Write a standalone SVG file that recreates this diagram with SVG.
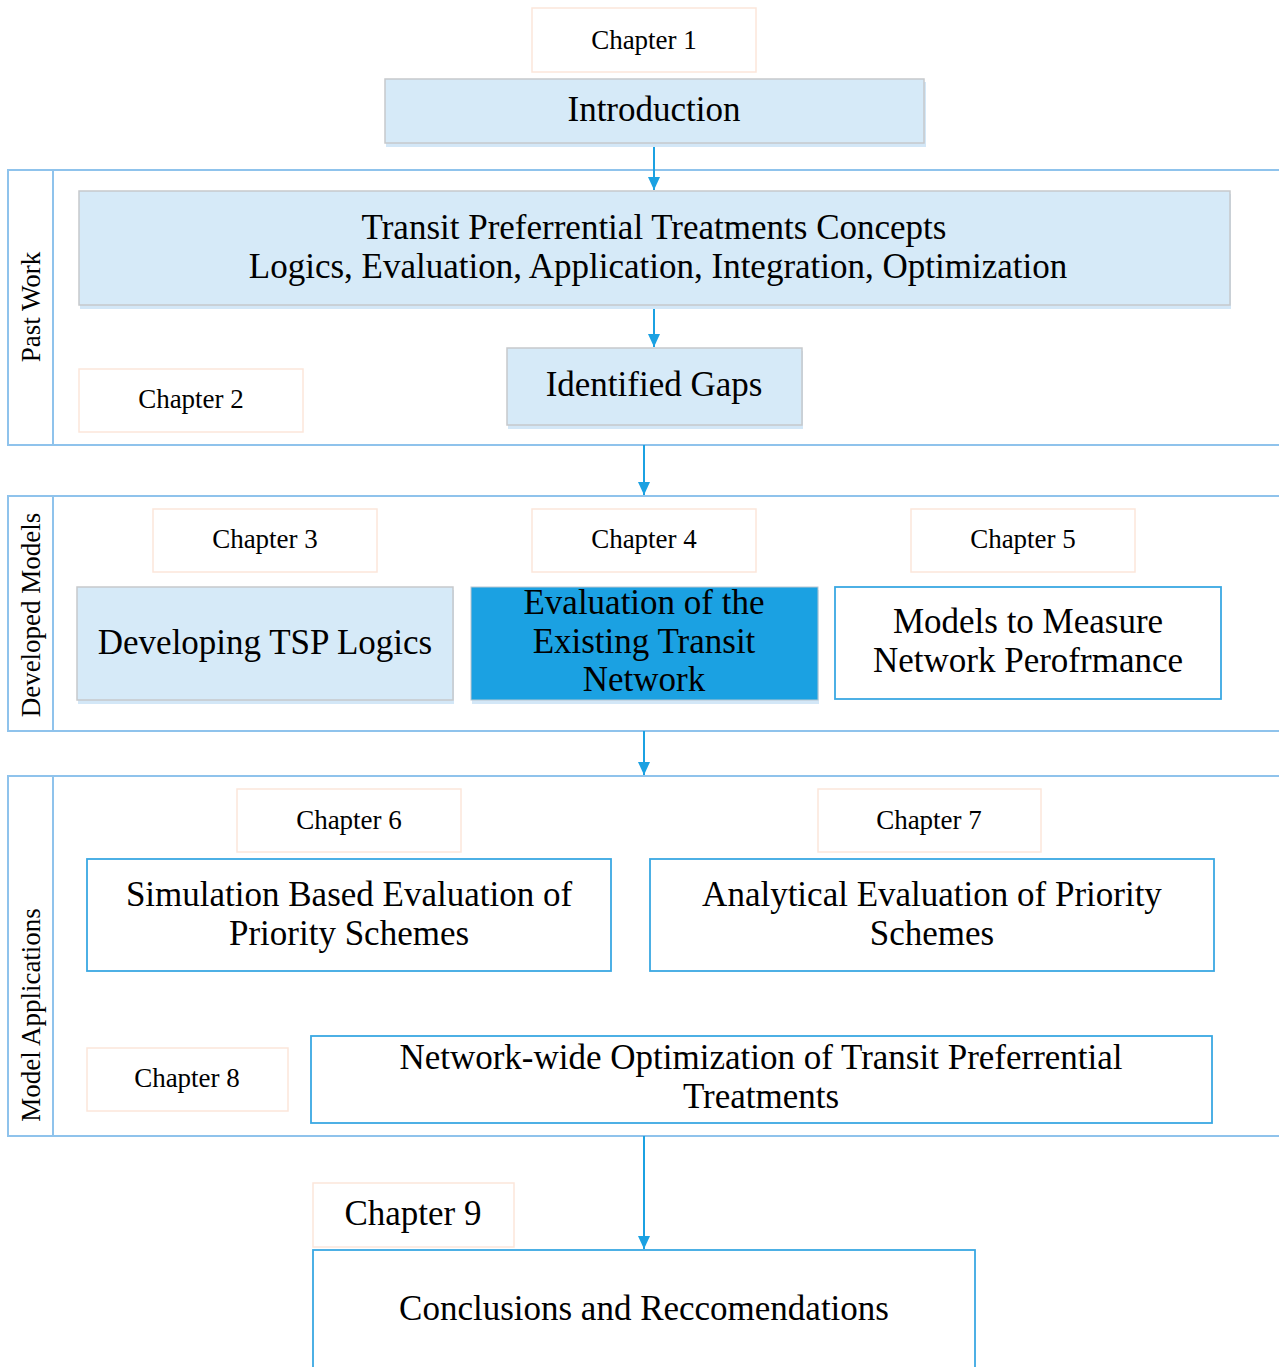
<svg xmlns="http://www.w3.org/2000/svg" width="1279" height="1367" viewBox="0 0 1279 1367">
  <defs>
    <style>
      .lane { fill: none; stroke: #8fc3ec; stroke-width: 2; }
      .chap { fill: #ffffff; stroke: #fce6da; stroke-width: 1.5; }
      .soft { fill: #d6eaf8; stroke: #c6c9cc; stroke-width: 1.5; }
      .shadow { fill: #d3e7f7; }
      .open { fill: #ffffff; stroke: #3aa8e3; stroke-width: 1.8; }
      .solid { fill: #1ba1e2; stroke: #b9c6cf; stroke-width: 1; }
      .t { font-family: "Liberation Serif", "Times New Roman", serif; fill: #000000; text-anchor: middle; }
      .big { font-size: 35px; }
      .small { font-size: 27px; }
      .wire { stroke: #1ba1e2; stroke-width: 2; fill: none; marker-end: url(#arrow); }
    </style>
    <!-- filled arrowhead, tip at the end of the line -->
    <marker id="arrow" markerWidth="13" markerHeight="12" refX="13" refY="6" orient="auto" markerUnits="userSpaceOnUse" viewBox="0 0 13 12">
      <path d="M0,0 L13,6 L0,12 Z" fill="#1ba1e2"/>
    </marker>
  </defs>

  <rect width="1279" height="1367" fill="#ffffff"/>

  <!-- swimlanes -->
  <g id="lane-past-work">
    <rect class="lane" x="8" y="170" width="1290" height="275"/>
    <line class="lane" x1="53" y1="170" x2="53" y2="445"/>
    <text class="t small" transform="translate(40 307) rotate(-90)">Past Work</text>
  </g>
  <g id="lane-developed-models">
    <rect class="lane" x="8" y="496" width="1290" height="235"/>
    <line class="lane" x1="53" y1="496" x2="53" y2="731"/>
    <text class="t small" transform="translate(40 615) rotate(-90)">Developed Models</text>
  </g>
  <g id="lane-model-applications">
    <rect class="lane" x="8" y="776" width="1290" height="360"/>
    <line class="lane" x1="53" y1="776" x2="53" y2="1136"/>
    <text class="t small" transform="translate(40 1015) rotate(-90)">Model Applications</text>
  </g>

  <!-- connectors -->
  <g id="connectors">
    <line class="wire" x1="654" y1="143" x2="654" y2="190"/>
    <line class="wire" x1="654" y1="306" x2="654" y2="347"/>
    <line class="wire" x1="644" y1="445" x2="644" y2="495"/>
    <line class="wire" x1="644" y1="731" x2="644" y2="775"/>
    <line class="wire" x1="644" y1="1136" x2="644" y2="1249"/>
  </g>

  <!-- chapter 1 -->
  <g id="chapter-1">
    <rect class="chap" x="532" y="8" width="224" height="64"/>
    <text class="t small" x="644" y="49">Chapter 1</text>
  </g>
  <g id="introduction">
    <rect class="shadow" x="386" y="82" width="540" height="65"/>
    <rect class="soft" x="385" y="79" width="539" height="64"/>
    <text class="t big" x="654" y="121">Introduction</text>
  </g>

  <!-- chapter 2 -->
  <g id="concepts">
    <rect class="shadow" x="80" y="194" width="1151" height="115"/>
    <rect class="soft" x="79" y="191" width="1151" height="114"/>
    <text class="t big" x="654" y="239">Transit Preferrential Treatments Concepts</text>
    <text class="t big" x="658" y="278">Logics, Evaluation, Application, Integration, Optimization</text>
  </g>
  <g id="identified-gaps">
    <rect class="shadow" x="508" y="351" width="295" height="78"/>
    <rect class="soft" x="507" y="348" width="295" height="77"/>
    <text class="t big" x="654" y="396">Identified Gaps</text>
  </g>
  <g id="chapter-2">
    <rect class="chap" x="79" y="369" width="224" height="63"/>
    <text class="t small" x="191" y="408">Chapter 2</text>
  </g>

  <!-- chapters 3 to 5 -->
  <g id="chapter-3">
    <rect class="chap" x="153" y="509" width="224" height="63"/>
    <text class="t small" x="265" y="548">Chapter 3</text>
  </g>
  <g id="chapter-4">
    <rect class="chap" x="532" y="509" width="224" height="63"/>
    <text class="t small" x="644" y="548">Chapter 4</text>
  </g>
  <g id="chapter-5">
    <rect class="chap" x="911" y="509" width="224" height="63"/>
    <text class="t small" x="1023" y="548">Chapter 5</text>
  </g>
  <g id="tsp-logics">
    <rect class="shadow" x="78" y="590" width="376" height="114"/>
    <rect class="soft" x="77" y="587" width="376" height="113"/>
    <text class="t big" x="265" y="654">Developing TSP Logics</text>
  </g>
  <g id="existing-network">
    <rect class="shadow" x="472" y="590" width="347" height="114"/>
    <rect class="solid" x="471" y="587" width="347" height="113"/>
    <text class="t big" x="644" y="614">Evaluation of the</text>
    <text class="t big" x="644" y="653">Existing Transit</text>
    <text class="t big" x="644" y="691">Network</text>
  </g>
  <g id="network-performance">
    <rect class="open" x="835" y="587" width="386" height="112"/>
    <text class="t big" x="1028" y="633">Models to Measure</text>
    <text class="t big" x="1028" y="672">Network Perofrmance</text>
  </g>

  <!-- chapters 6 to 8 -->
  <g id="chapter-6">
    <rect class="chap" x="237" y="789" width="224" height="63"/>
    <text class="t small" x="349" y="829">Chapter 6</text>
  </g>
  <g id="chapter-7">
    <rect class="chap" x="818" y="789" width="223" height="63"/>
    <text class="t small" x="929" y="829">Chapter 7</text>
  </g>
  <g id="simulation">
    <rect class="open" x="87" y="859" width="524" height="112"/>
    <text class="t big" x="349" y="906">Simulation Based Evaluation of</text>
    <text class="t big" x="349" y="945">Priority Schemes</text>
  </g>
  <g id="analytical">
    <rect class="open" x="650" y="859" width="564" height="112"/>
    <text class="t big" x="932" y="906">Analytical Evaluation of Priority</text>
    <text class="t big" x="932" y="945">Schemes</text>
  </g>
  <g id="chapter-8">
    <rect class="chap" x="87" y="1048" width="201" height="63"/>
    <text class="t small" x="187" y="1087">Chapter 8</text>
  </g>
  <g id="optimization">
    <rect class="open" x="311" y="1036" width="901" height="87"/>
    <text class="t big" x="761" y="1069">Network-wide Optimization of Transit Preferrential</text>
    <text class="t big" x="761" y="1108">Treatments</text>
  </g>

  <!-- chapter 9 -->
  <g id="chapter-9">
    <rect class="chap" x="313" y="1183" width="201" height="64"/>
    <text class="t big" x="413" y="1225">Chapter 9</text>
  </g>
  <g id="conclusions">
    <rect class="open" x="313" y="1250" width="662" height="130"/>
    <text class="t big" x="644" y="1320">Conclusions and Reccomendations</text>
  </g>
</svg>
